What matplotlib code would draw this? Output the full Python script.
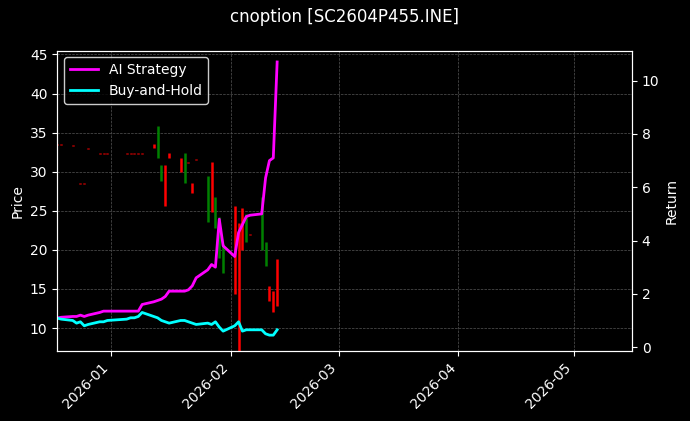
import matplotlib
matplotlib.use("Agg")
import matplotlib.pyplot as plt
import matplotlib.dates as mdates
import numpy as np
import pandas as pd

dates = pd.to_datetime([
    "2025-12-18", "2025-12-19", "2025-12-22", "2025-12-23", "2025-12-24", "2025-12-25",
    "2025-12-26", "2025-12-29", "2025-12-30", "2025-12-31", "2026-01-05", "2026-01-06",
    "2026-01-07", "2026-01-08", "2026-01-09", "2026-01-12", "2026-01-13", "2026-01-14",
    "2026-01-15", "2026-01-16", "2026-01-19", "2026-01-20", "2026-01-21", "2026-01-22",
    "2026-01-23", "2026-01-26", "2026-01-27", "2026-01-28", "2026-01-29", "2026-01-30",
    "2026-02-02", "2026-02-03", "2026-02-04", "2026-02-05", "2026-02-06", "2026-02-09",
    "2026-02-10", "2026-02-11", "2026-02-12", "2026-02-13",
])
opens = [33.5, 33.5, 33.4, 27.2, 28.5, 28.5, 33.0, 32.4, 32.4, 32.4, 32.4, 32.4,
         32.4, 32.4, 32.4, 33.5, 31.8, 28.8, 30.9, 32.4, 31.8, 28.6, 31.2, 28.6,
         31.6, 23.6, 31.3, 22.8, 19.0, 17.0, 25.6, 23.5, 25.4, 21.0, 22.0, 20.0,
         18.0, 15.4, 14.8, 18.8]
closes = [33.4, 33.4, 33.3, 27.1, 28.4, 28.4, 32.9, 32.3, 32.3, 32.3, 32.3, 32.3,
          32.3, 32.3, 32.3, 33.0, 35.9, 30.8, 25.6, 31.8, 30.0, 32.4, 31.1, 27.3,
          31.5, 29.5, 24.9, 26.7, 24.2, 20.8, 14.4, 7.0, 20.0, 24.6, 21.9, 26.7,
          21.0, 13.4, 12.0, 12.8]
strategy = [1.09, 1.12, 1.15, 1.15, 1.2, 1.15, 1.2, 1.3, 1.35, 1.35, 1.35, 1.35,
            1.35, 1.35, 1.6, 1.7, 1.75, 1.8, 1.9, 2.1, 2.1, 2.1, 2.15, 2.3,
            2.6, 2.9, 3.1, 3.0, 4.8, 3.8, 3.4, 4.3, 4.6, 4.9, 4.95, 5.0,
            6.35, 7.0, 7.1, 10.7]
buyhold = [1.09, 1.05, 1.0, 0.9, 0.95, 0.8, 0.85, 0.95, 0.95, 1.0, 1.05, 1.1,
           1.1, 1.15, 1.3, 1.15, 1.1, 1.0, 0.95, 0.9, 1.0, 1.0, 0.95, 0.9,
           0.85, 0.9, 0.85, 0.95, 0.75, 0.6, 0.8, 0.95, 0.6, 0.65, 0.65, 0.65,
           0.5, 0.45, 0.45, 0.65]

plt.style.use("dark_background")
fig, ax = plt.subplots(figsize=(6.9, 4.21), dpi=100)
fig.subplots_adjust(left=0.083, right=0.916, top=0.88, bottom=0.166)

o = np.array(opens)
c = np.array(closes)
colors = np.where(c >= o, "green", "red")
ax.vlines(dates, np.minimum(o, c), np.maximum(o, c), colors=colors, linewidth=1.8)
ax.set_ylim(7.05, 45.5)
ax.set_ylabel("Price")
ax.set_xlim(pd.Timestamp("2025-12-18"), pd.Timestamp("2026-05-16"))
ax.xaxis.set_major_locator(mdates.MonthLocator())
ax.xaxis.set_major_formatter(mdates.DateFormatter("%Y-%m"))
plt.setp(ax.get_xticklabels(), rotation=45, ha="right")
ax.grid(True, linestyle="--", linewidth=0.5, color="#555555")

ax2 = ax.twinx()
ax2.plot(dates, strategy, color="magenta", linewidth=2, label="AI Strategy")
ax2.plot(dates, buyhold, color="cyan", linewidth=2, label="Buy-and-Hold")
ax2.set_ylim(-0.15, 11.13)
ax2.set_ylabel("Return")
ax2.legend(loc="upper left", facecolor="black", edgecolor="white")

fig.suptitle("cnoption [SC2604P455.INE]")
fig.savefig("out.png", facecolor="black")
